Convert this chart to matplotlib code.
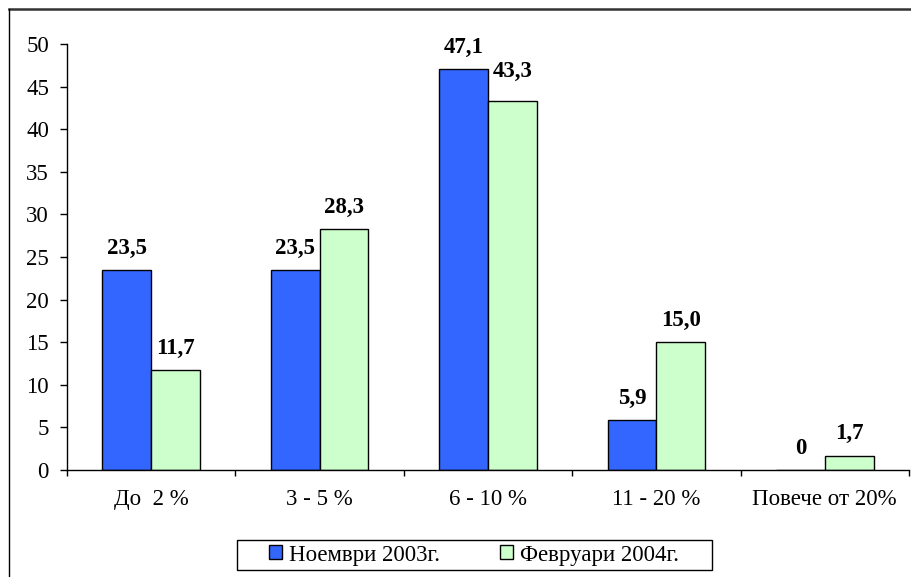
import matplotlib
matplotlib.use("Agg")
import matplotlib.pyplot as plt
import numpy as np
from matplotlib.lines import Line2D
from matplotlib.patches import Rectangle

plt.rcParams['font.family'] = ['Liberation Serif', 'DejaVu Serif']

categories = ["До  2 %", "3 - 5 %", "6 - 10 %", "11 - 20 %", "Повече от 20%"]
nov_2003 = [23.5, 23.5, 47.1, 5.9, 0]
feb_2004 = [11.7, 28.3, 43.3, 15.0, 1.7]
series_names = ["Ноември 2003г.", "Февруари 2004г."]
yticks = [0, 5, 10, 15, 20, 25, 30, 35, 40, 45, 50]

W, H = 911, 577
FS = 16.5
fig = plt.figure(figsize=(W / 100, H / 100), dpi=100)
ax = fig.add_axes([67 / W, (H - 470) / H, (909 - 67) / W, (470 - 44) / H])

x = np.arange(len(categories))
bw = 0.29
b1 = ax.bar(x - bw / 2, nov_2003, bw, color="#3366FF", edgecolor="black", linewidth=1, label=series_names[0])
b2 = ax.bar(x + bw / 2, feb_2004, bw, color="#CCFFCC", edgecolor="black", linewidth=1, label=series_names[1])

def fmt(v):
    return "0" if v == 0 else f"{v:.1f}".replace(".", ",")

# extra vertical nudge (points) for labels moved in the original
nudge = {(1, 2): 6}
for si, (bars, vals) in enumerate(((b1, nov_2003), (b2, feb_2004))):
    for ci, (rect, v) in enumerate(zip(bars, vals)):
        ax.annotate(fmt(v), (rect.get_x() + rect.get_width() / 2, v),
                    xytext=(0, 8 + nudge.get((si, ci), 0)), textcoords="offset points",
                    ha="center", va="bottom", fontsize=FS, fontweight="bold")

ax.set_xlim(-0.5, len(categories) - 0.5)
ax.set_ylim(0, 50)
ax.set_yticks(yticks)
ax.set_yticklabels([str(t) for t in yticks], fontsize=FS)
ax.set_xticks(x)
ax.set_xticklabels(categories, fontsize=FS)
ax.tick_params(axis="x", length=0, pad=14)
ax.set_xticks(np.arange(len(categories) + 1) - 0.5, minor=True)
ax.tick_params(axis="x", which="minor", length=4.5, direction="out", width=1)
ax.tick_params(axis="y", length=5, direction="out", width=1, pad=8)
ax.spines["top"].set_visible(False)
ax.spines["right"].set_visible(False)
for s in ("left", "bottom"):
    ax.spines[s].set_linewidth(1)

leg = fig.legend(handles=[b1, b2], labels=series_names, loc="center",
                 bbox_to_anchor=(474 / W, (H - 555) / H), ncol=2, fontsize=FS,
                 frameon=False,
                 handlelength=0.57, handleheight=0.57, handletextpad=0.3,
                 columnspacing=2.6, borderpad=0.2)
fig.add_artist(Rectangle((237 / W, (H - 570) / H), (712 - 237) / W, 30 / H,
                         transform=fig.transFigure, fill=False, edgecolor="black", linewidth=1))

fig.add_artist(Line2D([9 / W, 1], [(H - 9) / H, (H - 9) / H], transform=fig.transFigure, color="#333333", linewidth=1.8))
fig.add_artist(Line2D([9 / W, 9 / W], [0, (H - 9) / H], transform=fig.transFigure, color="black", linewidth=1))

fig.savefig("out.png", dpi=100)
